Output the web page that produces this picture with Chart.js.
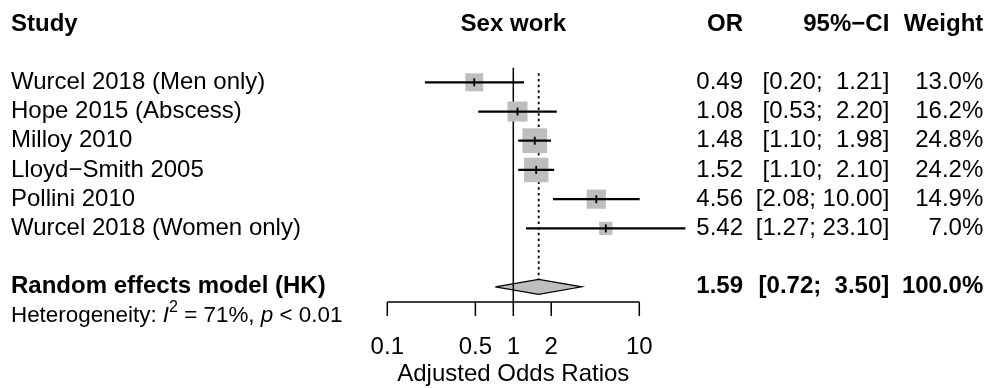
<!DOCTYPE html>
<html>
<head>
<meta charset="utf-8">
<script src="https://cdn.jsdelivr.net/npm/chart.js@4.4.1/dist/chart.umd.min.js"></script>
<style>
  html, body { margin: 0; padding: 0; background: #fff; }
  canvas { display: block; }
</style>
</head>
<body>
<canvas id="forest" width="989" height="388"></canvas>
<script>
// Forest plot: sex work and odds of the outcome, random effects (HK)

const studies = ['Wurcel 2018 (Men only)', 'Hope 2015 (Abscess)', 'Milloy 2010', 'Lloyd\u2212Smith 2005', 'Pollini 2010', 'Wurcel 2018 (Women only)'];
const oddsRatios = [0.49, 1.08, 1.48, 1.52, 4.56, 5.42];
const ciLower = [0.20, 0.53, 1.10, 1.10, 2.08, 1.27];
const ciUpper = [1.21, 2.20, 1.98, 2.10, 10.00, 23.10];
const weights = [13.0, 16.2, 24.8, 24.2, 14.9, 7.0];

const pooledLabel = 'Random effects model (HK)';
const pooledOR = 1.59;
const pooledCI = [0.72, 3.50];
const pooledWeight = 100.0;

const hetI2 = '71%';
const hetP = '< 0.01';

const tickValues = [0.1, 0.5, 1, 2, 10];
const tickLabels = ['0.1', '0.5', '1', '2', '10'];
const axisTitle = 'Adjusted Odds Ratios';
const headers = { study: 'Study', plot: 'Sex work', or: 'OR', ci: '95%\u2212CI', weight: 'Weight' };

// layout
const ROW_HEADER = -2, ROW_POOLED = 7, ROW_HET = 8;
const Y_TOP = -0.5, Y_BOTTOM = 7.52;
const DIAMOND_H = 0.257;
const FONT = '"Liberation Sans", Arial, Helvetica, sans-serif';
const FS = 24;
const GRAY = '#bebebe';
const COL_STUDY = 11, COL_OR = 743, COL_CI = 889.3, COL_W = 983.3;

const rows = studies.map((_, i) => i);
const fmtCI = (lo, hi) => `[${lo.toFixed(2)}; ${hi.toFixed(2).padStart(5, ' ')}]`;
const fmtW = w => w.toFixed(1) + '%';

const tablePlugin = {
    id: 'forestTable',
    afterDraw(chart) {
        const { ctx, chartArea: area, scales: { x, y } } = chart;
        ctx.save();
        ctx.fillStyle = '#000';
        ctx.strokeStyle = '#000';
        ctx.textBaseline = 'middle';

        const text = (s, px, row, align, bold) => {
            ctx.font = `${bold ? 'bold ' : ''}${FS}px ${FONT}`;
            ctx.textAlign = align;
            ctx.fillText(s, px, y.getPixelForValue(row));
        };

        // headers
        text(headers.study, COL_STUDY, ROW_HEADER, 'left', true);
        text(headers.plot, (area.left + area.right) / 2, ROW_HEADER, 'center', true);
        text(headers.or, COL_OR, ROW_HEADER, 'right', true);
        text(headers.ci, COL_CI, ROW_HEADER, 'right', true);
        text(headers.weight, COL_W, ROW_HEADER, 'right', true);

        // study rows
        rows.forEach(i => {
            text(studies[i], COL_STUDY, i, 'left', false);
            text(oddsRatios[i].toFixed(2), COL_OR, i, 'right', false);
            text(fmtCI(ciLower[i], ciUpper[i]), COL_CI, i, 'right', false);
            text(fmtW(weights[i]), COL_W, i, 'right', false);
        });

        // pooled row
        text(pooledLabel, COL_STUDY, ROW_POOLED, 'left', true);
        text(pooledOR.toFixed(2), COL_OR, ROW_POOLED, 'right', true);
        text(fmtCI(pooledCI[0], pooledCI[1]), COL_CI, ROW_POOLED, 'right', true);
        text(fmtW(pooledWeight), COL_W, ROW_POOLED, 'right', true);

        // heterogeneity line with italic I^2 and p
        const hs = 22.4;
        const hy = y.getPixelForValue(ROW_HET);
        let hx = COL_STUDY;
        ctx.textAlign = 'left';
        const piece = (s, font, dy) => {
            ctx.font = font;
            ctx.fillText(s, hx, hy + (dy || 0));
            hx += ctx.measureText(s).width;
        };
        piece('Heterogeneity: ', `${hs}px ${FONT}`);
        piece('I', `italic ${hs}px ${FONT}`);
        piece('2', `${hs * 0.72}px ${FONT}`, -8);
        piece(' = ' + hetI2 + ', ', `${hs}px ${FONT}`);
        piece('p', `italic ${hs}px ${FONT}`);
        piece(' ' + hetP, `${hs}px ${FONT}`);

        // x axis
        const axisY = area.bottom;
        ctx.lineWidth = 1.5;
        ctx.beginPath();
        ctx.moveTo(x.getPixelForValue(tickValues[0]), axisY);
        ctx.lineTo(x.getPixelForValue(tickValues[tickValues.length - 1]), axisY);
        tickValues.forEach(v => {
            const px = x.getPixelForValue(v);
            ctx.moveTo(px, axisY);
            ctx.lineTo(px, axisY + 14);
        });
        ctx.stroke();

        ctx.font = `${FS}px ${FONT}`;
        ctx.textAlign = 'center';
        tickValues.forEach((v, i) => ctx.fillText(tickLabels[i], x.getPixelForValue(v), axisY + 45));
        ctx.fillText(axisTitle, (area.left + area.right) / 2, axisY + 72);

        ctx.restore();
    }
};

new Chart(document.getElementById('forest'), {
    type: 'scatter',
    data: {
        datasets: [
            // point estimate ticks
            {
                type: 'scatter', order: 1,
                data: rows.map(i => ({ x: oddsRatios[i], y: i })),
                pointStyle: 'line', rotation: 90, pointRadius: 4,
                borderColor: '#000', borderWidth: 1.8, clip: false
            },
            // confidence intervals
            {
                type: 'bar', indexAxis: 'y', order: 2,
                data: rows.map(i => ({ x: [ciLower[i], ciUpper[i]], y: i })),
                backgroundColor: '#000', borderWidth: 0, barThickness: 1.6, clip: false
            },
            // weight squares
            {
                type: 'scatter', order: 3,
                data: rows.map(i => ({ x: oddsRatios[i], y: i })),
                pointStyle: 'rect',
                pointRadius: c => 4.97 * Math.sqrt(weights[c.dataIndex]) / Math.SQRT2,
                backgroundColor: GRAY, borderWidth: 0, clip: false
            },
            // line of no effect
            {
                type: 'line', order: 4,
                data: [{ x: 1, y: Y_TOP }, { x: 1, y: Y_BOTTOM }],
                borderColor: '#000', borderWidth: 1.5, pointRadius: 0, clip: false
            },
            // pooled diamond
            {
                type: 'line', order: 5,
                data: [
                    { x: pooledCI[0], y: ROW_POOLED },
                    { x: pooledOR, y: ROW_POOLED - DIAMOND_H },
                    { x: pooledCI[1], y: ROW_POOLED },
                    { x: pooledOR, y: ROW_POOLED + DIAMOND_H },
                    { x: pooledCI[0], y: ROW_POOLED }
                ],
                fill: 'shape', backgroundColor: GRAY, borderColor: '#000', borderWidth: 1.2,
                pointRadius: 0, tension: 0, clip: false
            },
            // pooled estimate dotted line
            {
                type: 'line', order: 6,
                data: [{ x: pooledOR, y: -0.31 }, { x: pooledOR, y: ROW_POOLED - DIAMOND_H }],
                borderColor: '#000', borderWidth: 1.8, borderDash: [2.5, 3.2], pointRadius: 0, clip: false
            }
        ]
    },
    options: {
        responsive: false,
        animation: false,
        events: [],
        layout: { padding: { left: 387.3, right: 349.7, top: 67.7, bottom: 86 } },
        scales: {
            x: { type: 'logarithmic', min: tickValues[0], max: tickValues[tickValues.length - 1], offset: false, display: false },
            y: { type: 'linear', min: Y_TOP, max: Y_BOTTOM, reverse: true, offset: false, display: false }
        },
        plugins: { legend: { display: false }, tooltip: { enabled: false } }
    },
    plugins: [tablePlugin]
});
</script>
</body>
</html>
